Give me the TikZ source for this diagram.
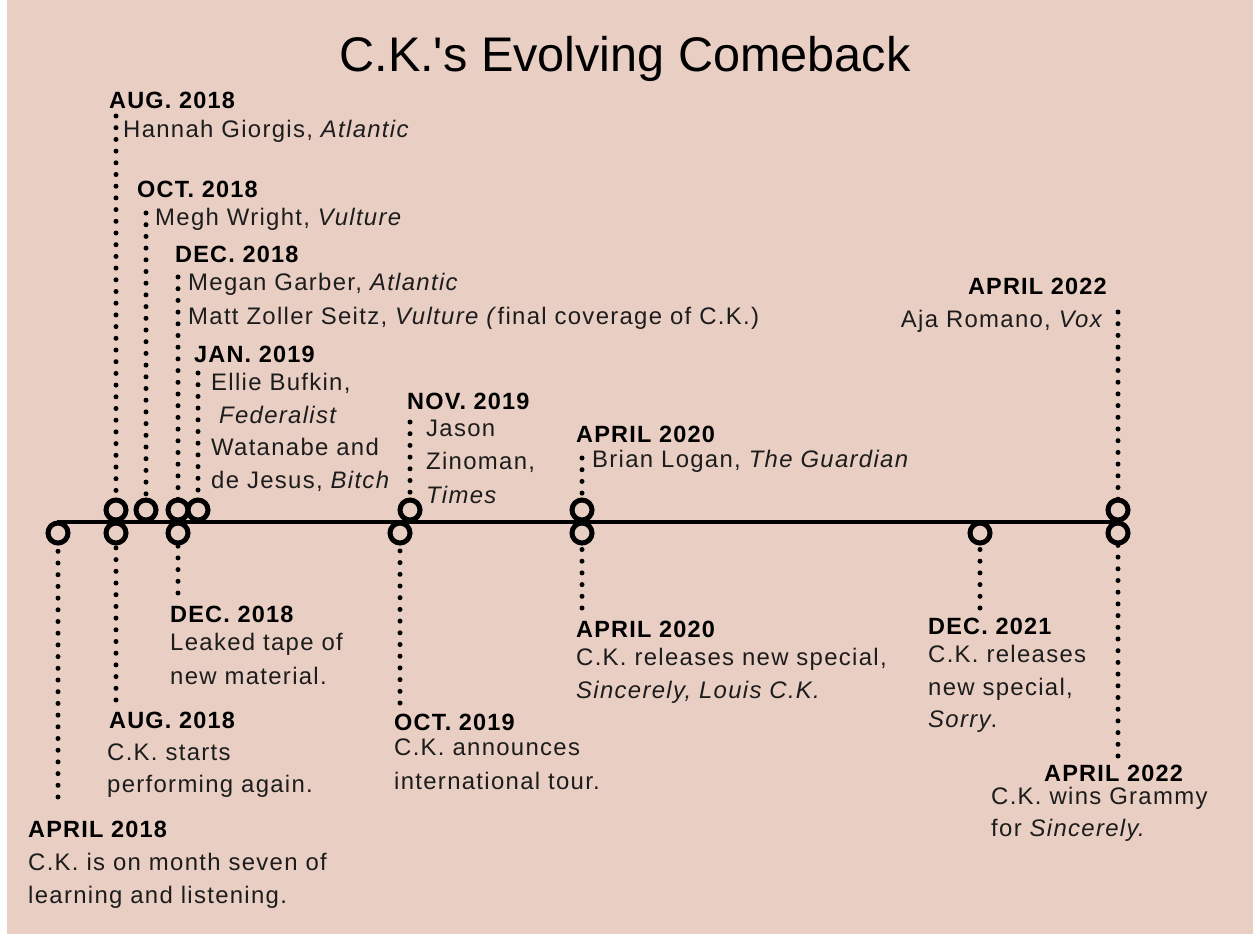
\documentclass[tikz,border=0pt]{standalone}
\usepackage{fontspec}
\setmainfont{Liberation Sans}[LetterSpace=5]
\newfontfamily\bodyfont{Liberation Sans}[LetterSpace=5.5]
\newfontfamily\titlefont{Liberation Sans}
\definecolor{bgpink}{HTML}{E8CEC3}
\definecolor{ink}{HTML}{1C1C1C}
\begin{document}
\begin{tikzpicture}[x=1pt,y=-1pt,
  txt/.style={inner sep=0pt, anchor=base west, text=ink, font=\bodyfont\fontsize{23.9}{28}\selectfont},
  hdr/.style={txt, text=black, font=\fontsize{23.5}{28}\selectfont\bfseries},
  ring/.style={circle, draw=black, line width=5pt, fill=bgpink, minimum size=20pt, inner sep=0pt},
  dotline/.style={draw=black, line width=5pt, line cap=round, dash pattern=on 0pt off 11.7pt},
  axis/.style={draw=black, line width=3.8pt}]
\useasboundingbox (0,0) rectangle (1253,934);
\fill[white] (0,0) rectangle (1253,934);
\fill[bgpink] (7,0) rectangle (1253,934);

% title
\node[inner sep=0pt, anchor=base, font=\titlefont\fontsize{48.6}{56}\selectfont, text=black] (title) at (625,72) {C.K.'s Evolving Comeback};

% axis
\coordinate (axS) at (57,522);
\coordinate (axE) at (1118,522);
\draw[axis] (axS) -- (axE);

% dotted end points (above)
\coordinate (tA) at (116,116);
\coordinate (tB) at (146,213);
\coordinate (tC) at (178,277);
\coordinate (tD) at (198,373);
\coordinate (tE) at (410,422);
\coordinate (tF) at (582,458);
\coordinate (tG) at (1118,312);
% dotted end points (below)
\coordinate (bA) at (58,797);
\coordinate (bB) at (116,700);
\coordinate (bC) at (178,593);
\coordinate (bD) at (400,703);
\coordinate (bE) at (582,608);
\coordinate (bF) at (980,608);
\coordinate (bG) at (1118,756);

% circle positions
\coordinate (pA) at (116,510);
\coordinate (pB) at (146,510);
\coordinate (pC) at (178,510);
\coordinate (pD) at (198,510);
\coordinate (pE) at (410,510);
\coordinate (pF) at (582,510);
\coordinate (pG) at (1118,510);
\coordinate (qA) at (58,533);
\coordinate (qB) at (116,533);
\coordinate (qC) at (178,533);
\coordinate (qD) at (400,533);
\coordinate (qE) at (582,533);
\coordinate (qF) at (980,533);
\coordinate (qG) at (1118,533);

% dotted connectors
\foreach \k in {A,B,C,D,E,F,G}{
  \draw[dotline] (t\k) -- (p\k);
  \draw[dotline] (b\k) -- (q\k);
}

% rings
\node[ring] (rqA) at (qA) {};
\node[ring] (rqB) at (qB) {};
\node[ring] (rqC) at (qC) {};
\node[ring] (rqD) at (qD) {};
\node[ring] (rqE) at (qE) {};
\node[ring] (rqF) at (qF) {};
\node[ring] (rqG) at (qG) {};
\node[ring] (rpA) at (pA) {};
\node[ring] (rpB) at (pB) {};
\node[ring] (rpC) at (pC) {};
\node[ring] (rpD) at (pD) {};
\node[ring] (rpE) at (pE) {};
\node[ring] (rpF) at (pF) {};
\node[ring] (rpG) at (pG) {};

% ---- labels above ----
\node[hdr] (h1) at (109,108.5) {AUG. 2018};
\node[txt] (l1a) at (123,137) {Hannah Giorgis, \textit{Atlantic}};

\node[hdr] (h2) at (137,197) {OCT. 2018};
\node[txt] (l2a) at (155,225) {Megh Wright, \textit{Vulture}};

\node[hdr] (h3) at (175,262) {DEC. 2018};
\node[txt] (l3a) at (188,290) {Megan Garber, \textit{Atlantic}};
\node[txt] (l3b) at (188,324) {Matt Zoller Seitz, \textit{Vulture (}final coverage of C.K.)};

\node[hdr] (h4) at (194,362) {JAN. 2019};
\node[txt] (l4a) at (211,390) {Ellie Bufkin,};
\node[txt] (l4b) at (219,423) {\textit{Federalist}};
\node[txt] (l4c) at (211,455.5) {Watanabe and};
\node[txt] (l4d) at (211,488.5) {de Jesus, \textit{Bitch}};

\node[hdr] (h5) at (407,409) {NOV. 2019};
\node[txt] (l5a) at (426,436) {Jason};
\node[txt] (l5b) at (426,469.5) {Zinoman,};
\node[txt] (l5c) at (426,503.5) {\textit{Times}};

\node[hdr] (h6) at (576,442) {APRIL 2020};
\node[txt] (l6a) at (592,467) {Brian Logan, \textit{The Guardian}};

\node[hdr, anchor=base east] (h7) at (1107,294) {APRIL 2022};
\node[txt, anchor=base east] (l7a) at (1104,327) {Aja Romano, \textit{Vox}};

% ---- labels below ----
\node[hdr] (h8) at (170,622) {DEC. 2018};
\node[txt] (l8a) at (170,650.5) {Leaked tape of};
\node[txt] (l8b) at (170,684) {new material.};

\node[hdr] (h9) at (109,728) {AUG. 2018};
\node[txt] (l9a) at (107,760) {C.K. starts};
\node[txt] (l9b) at (107,792) {performing again.};

\node[hdr] (h10) at (28,837.5) {APRIL 2018};
\node[txt] (l10a) at (28,870.5) {C.K. is on month seven of};
\node[txt] (l10b) at (28,903) {learning and listening.};

\node[hdr] (h11) at (394,730.5) {OCT. 2019};
\node[txt] (l11a) at (394,755.5) {C.K. announces};
\node[txt] (l11b) at (394,789) {international tour.};

\node[hdr] (h12) at (576,637) {APRIL 2020};
\node[txt] (l12a) at (576,665.5) {C.K. releases new special,};
\node[txt] (l12b) at (576,698) {\textit{Sincerely, Louis C.K.}};

\node[hdr] (h13) at (928,634.5) {DEC. 2021};
\node[txt] (l13a) at (928,662) {C.K. releases};
\node[txt] (l13b) at (928,695.5) {new special,};
\node[txt] (l13c) at (928,727.5) {\textit{Sorry}.};

\node[hdr] (h14) at (1044,781) {APRIL 2022};
\node[txt] (l14a) at (991,804) {C.K. wins Grammy};
\node[txt] (l14b) at (991,836.5) {for \textit{Sincerely.}};
\end{tikzpicture}
\end{document}
